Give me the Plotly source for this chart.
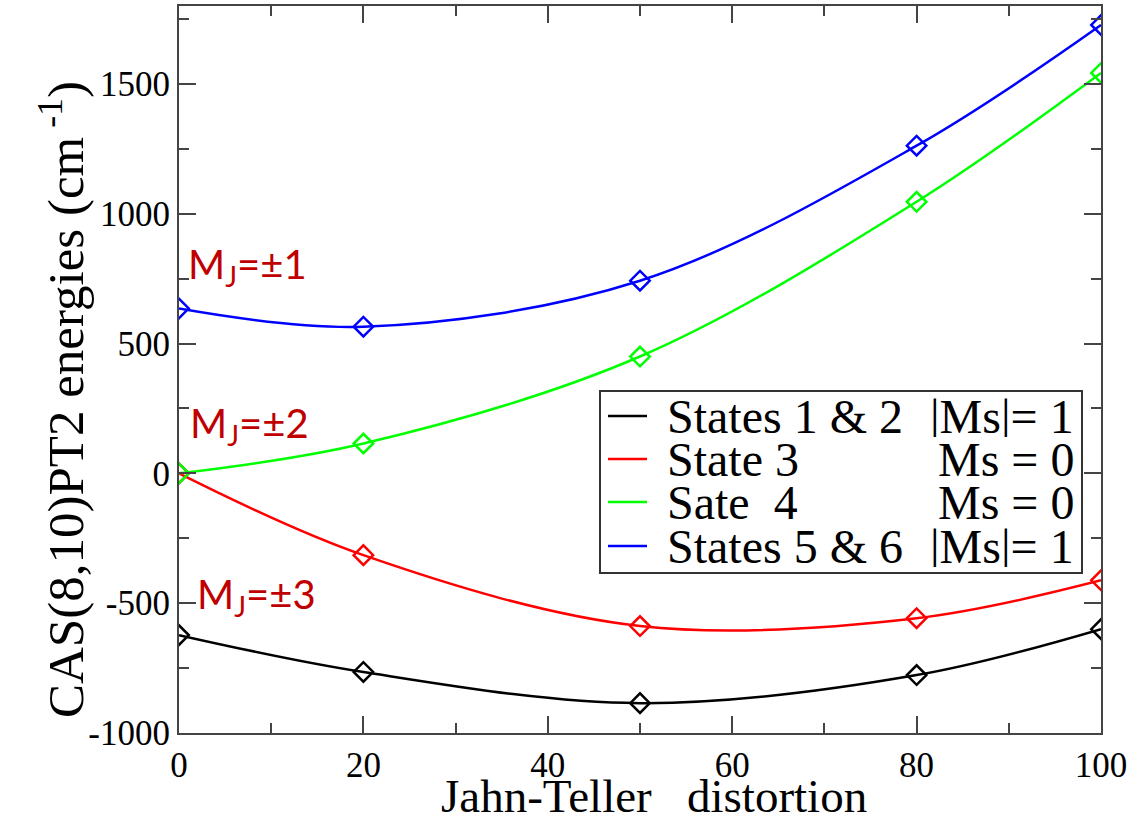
import plotly.graph_objects as go

x_vals = [0, 20, 50, 80, 100]
states_1_2 = [-623, -765, -885, -777, -600]
state_3 = [0, -315, -588, -558, -412]
state_4 = [0, 115, 450, 1046, 1542]
states_5_6 = [635, 565, 742, 1262, 1727]

series_left = ["States 1 & 2", "State 3", "Sate\u00a0\u00a04", "States 5 & 6"]
series_right = ["|Ms|= 1", "Ms = 0", "Ms = 0", "|Ms|= 1"]
series_values = [states_1_2, state_3, state_4, states_5_6]
series_colors = ["#000000", "#ff0000", "#00ff00", "#0000ff"]

y_tickvals = [-1000, -500, 0, 500, 1000, 1500]
y_ticktext = ["-1000", "-500", "0", "500", "1000", "1500"]
x_tickvals = [0, 20, 40, 60, 80, 100]

mj_labels = ["M<sub>J</sub>=±1", "M<sub>J</sub>=±2", "M<sub>J</sub>=±3"]
mj_y = [795, 185, -473]
mj_shift = [7, 9, 16]

# plot-area geometry in page pixels
W, H = 1133, 819
PL, PR, PT, PB = 179, 1101, 6, 733


def px(xp):
    return (xp - PL) / (PR - PL)


def py(yp):
    return (PB - yp) / (PB - PT)


serif = "Liberation Serif, Times New Roman, serif"
fig = go.Figure()
for name, vals, col in zip(series_left, series_values, series_colors):
    fig.add_trace(go.Scatter(
        x=x_vals, y=vals, name=name, mode="lines+markers", showlegend=False,
        line=dict(color=col, width=2.5, shape="spline", smoothing=1.0),
        marker=dict(symbol="diamond-open", size=15, color=col, line=dict(width=2.5, color=col)),
    ))

for lab, yv, sh in zip(mj_labels, mj_y, mj_shift):
    fig.add_annotation(x=0, y=yv, xref="x", yref="y", text=lab, showarrow=False,
                       xanchor="left", yanchor="middle", xshift=sh,
                       font=dict(family="Lato, DejaVu Sans, sans-serif", size=40, color="#c00000"))

# legend box (drawn manually to match layout)
fig.add_shape(type="rect", xref="paper", yref="paper", x0=px(600), x1=px(1082), y0=py(573), y1=py(391),
              line=dict(color="#333333", width=2), fillcolor="white", layer="above")
row_y = [416, 459, 502, 546]
for ry, col, lt, rt in zip(row_y, series_colors, series_left, series_right):
    fig.add_shape(type="line", xref="paper", yref="paper", x0=px(608), x1=px(647), y0=py(ry), y1=py(ry),
                  line=dict(color=col, width=2.5), layer="above")
    fig.add_annotation(x=px(665), y=py(ry), xref="paper", yref="paper", text=lt, showarrow=False,
                       xanchor="left", yanchor="middle", height=42,
                       font=dict(family=serif, size=48, color="black"))
    fig.add_annotation(x=px(1076), y=py(ry), xref="paper", yref="paper", text=rt, showarrow=False,
                       xanchor="right", yanchor="middle", height=42,
                       font=dict(family=serif, size=48, color="black"))

# axis titles
fig.add_annotation(x=px(62), y=py(400), xref="paper", yref="paper", textangle=-90,
                   text="CAS(8,10)PT2 energies (cm<sup> -1</sup>)", showarrow=False,
                   xanchor="center", yanchor="middle", font=dict(family=serif, size=51, color="black"))
fig.add_annotation(x=px(654), y=py(796), xref="paper", yref="paper",
                   text="Jahn-Teller\u00a0\u00a0\u00a0distortion", showarrow=False,
                   xanchor="center", yanchor="middle", height=40,
                   font=dict(family=serif, size=47, color="black"))

axis_common = dict(showgrid=False, zeroline=False, showline=True, linecolor="#444444", linewidth=2,
                   mirror="ticks", ticks="inside", ticklen=17, tickwidth=2, tickcolor="#444444",
                   tickfont=dict(size=35, family=serif, color="black"), automargin=False)
fig.update_layout(
    width=W, height=H,
    margin=dict(l=PL, r=W - PR, t=PT, b=H - PB),
    plot_bgcolor="white", paper_bgcolor="white",
    font=dict(family=serif, color="black"),
    showlegend=False,
    xaxis=dict(range=[0, 100], tickvals=x_tickvals,
               minor=dict(dtick=10, ticks="inside", ticklen=10, tickwidth=2, tickcolor="#444444"),
               **axis_common),
    yaxis=dict(range=[-1000, 1800], tickvals=y_tickvals, ticktext=y_ticktext,
               minor=dict(dtick=250, ticks="inside", ticklen=10, tickwidth=2, tickcolor="#444444"),
               **axis_common),
)

fig.write_html("out.html", config={"displayModeBar": False},
               post_script="document.body.style.margin='0';")
